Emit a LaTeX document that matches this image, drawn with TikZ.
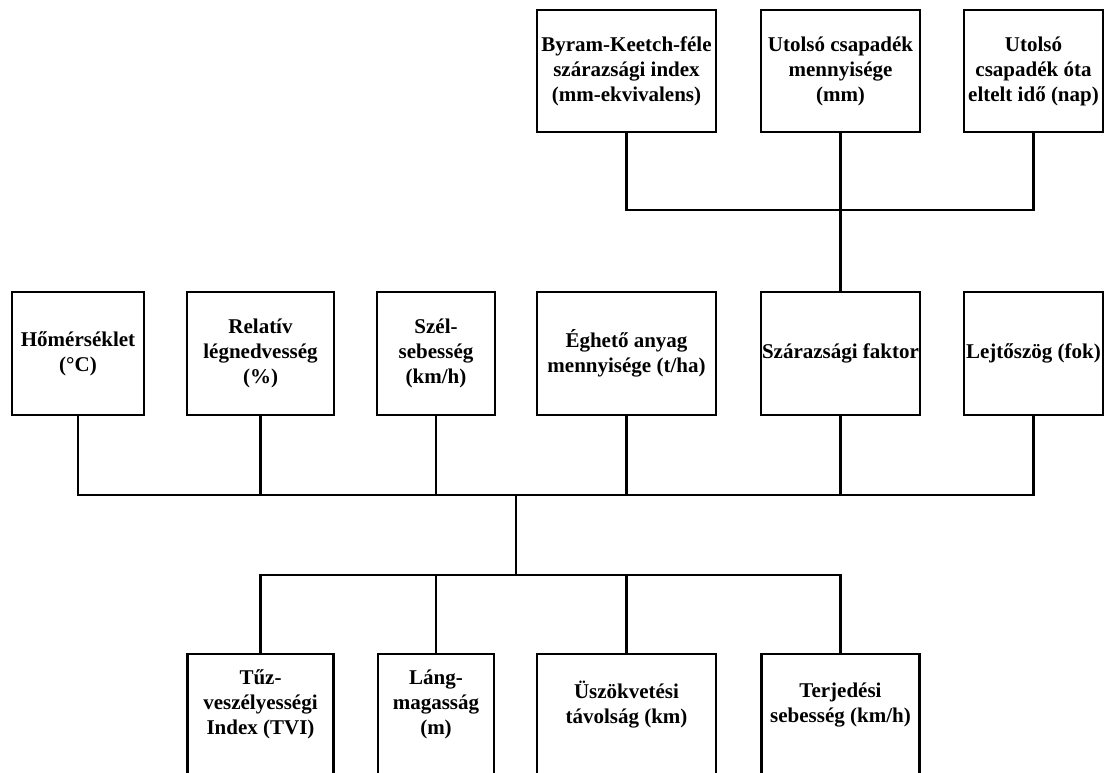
\documentclass[tikz,border=0pt]{standalone}
\usepackage{fontspec}
\setmainfont{Liberation Serif}
\usetikzlibrary{positioning, calc}

\begin{document}
\begin{tikzpicture}[node distance=43pt, auto,
    block/.style={rectangle, draw, line width=2.4pt, outer sep=0pt, align=center, inner sep=1pt, minimum height=123pt, font=\fontsize{21}{25}\selectfont\bfseries},
    outbox/.style={block, execute at end node={\rule[-26pt]{0pt}{0pt}}},
    line/.style={draw, line width=2.4pt}
]
    \useasboundingbox (0,0) rectangle (1104pt,-772pt);

    % Input factors
    \node [block, minimum width=132pt] (hom) at (78pt,-353.5pt) {Hőmérséklet\\(°C)};
    \node [block, minimum width=147pt, right=of hom] (rel) {Relatív\\légnedvesség\\(\%)};
    \node [block, minimum width=118pt, right=of rel] (szel) {Szél-\\sebesség\\(km/h)};
    \node [block, minimum width=179pt, right=42pt of szel] (egh) {Éghető anyag\\mennyisége (t/ha)};
    \node [block, minimum width=159pt, right=45pt of egh] (sza) {Szárazsági faktor};
    \node [block, minimum width=139pt, right=44pt of sza] (lejt) {Lejtőszög (fok)};

    % Drought inputs
    \node [block, minimum width=179pt, minimum height=122pt, above=160pt of egh] (bki) {Byram-Keetch-féle\\szárazsági index\\(mm-ekvivalens)};
    \node [block, minimum width=159pt, minimum height=122pt, above=160pt of sza] (ucm) {Utolsó csapadék\\mennyisége\\(mm)};
    \node [block, minimum width=139pt, minimum height=122pt, above=160pt of lejt] (uci) {Utolsó\\csapadék óta\\eltelt idő (nap)};

    % Outputs
    \node [outbox, minimum width=146pt, below=239pt of rel] (tvi) {Tűz-\\veszélyességi\\Index (TVI)};
    \node [outbox, minimum width=116pt, below=239pt of szel] (lang) {Láng-\\magasság\\(m)};
    \node [outbox, minimum width=179pt, below=239pt of egh] (usz) {Üszökvetési\\távolság (km)};
    \node [outbox, minimum width=158pt, below=239pt of sza] (terj) {Terjedési\\sebesség (km/h)};

    % Bus points
    \coordinate [above=82pt of sza] (topbus);
    \coordinate (midbus) at ($(szel.south east)!0.5!(egh.south west) + (0,-80pt)$);
    \coordinate [below=80pt of midbus] (botbus);

    % Connections
    \path [line] (bki.south) |- (topbus) -| (uci.south);
    \path [line] (ucm.south) -- (sza.north);
    \foreach \n in {hom,rel,szel,egh,sza,lejt}
        \path [line] (\n.south) |- (midbus);
    \path [line] (midbus) -- (botbus);
    \foreach \n in {tvi,lang,usz,terj}
        \path [line] (\n.north) |- (botbus);

\end{tikzpicture}
\end{document}
